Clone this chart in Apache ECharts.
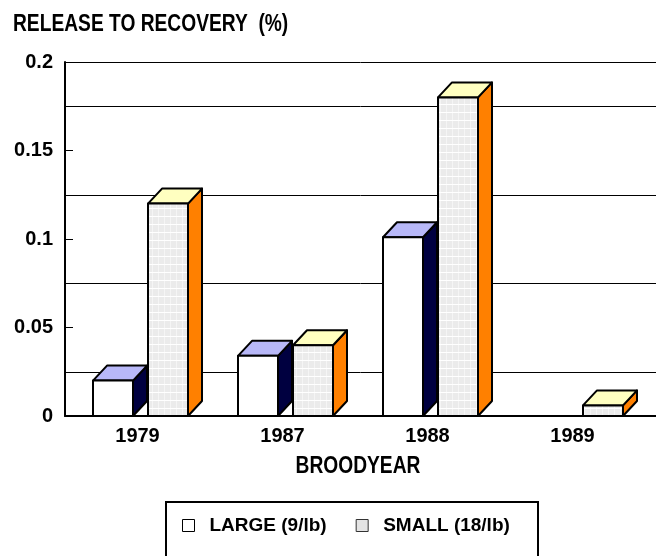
<!DOCTYPE html>
<html>
<head>
<meta charset="utf-8">
<script src="https://cdn.jsdelivr.net/npm/echarts@6/dist/echarts.min.js"></script>
<style>
  html, body { margin: 0; padding: 0; background: #fff; }
  #chart { width: 656px; height: 556px; }
</style>
</head>
<body>
<div id="chart"></div>
<script>
// data
const years = ["1979", "1987", "1988", "1989"];
const largeVals = [0.02, 0.034, 0.101, 0];
const smallVals = [0.12, 0.04, 0.18, 0.006];
const yTicks = [0, 0.05, 0.1, 0.15, 0.2];

const FONT = "'Liberation Sans', Arial, sans-serif";

// light grey texture for the small-fish bars
function makePattern() {
  let c = document.createElement("canvas");
  c.width = 6;
  c.height = 8;
  let ctx = c.getContext("2d");
  ctx.fillStyle = "#ebebeb";
  ctx.fillRect(0, 0, 6, 8);
  ctx.fillStyle = "#f5f5f5";
  ctx.fillRect(2, 0, 1, 8);
  ctx.fillStyle = "#ffffff";
  ctx.fillRect(0, 0, 6, 1);
  return c;
}
const pattern = { image: makePattern(), repeat: "repeat" };

// 3D-ish box bar: front, top and side faces
function boxBar(offsetFrac, front, topColor, sideColor) {
  return function (params, api) {
    let idx = api.value(0);
    let val = api.value(1);
    if (!val) return null;
    let base = api.coord([idx, 0]);
    let top = api.coord([idx, val]);
    let bw = api.size([1, 0])[0];
    let w = bw * 40 / 145;
    let dx = bw * 14 / 145;
    let dy = 15;
    let x0 = base[0] + bw * offsetFrac;
    let x1 = x0 + w;
    let yb = base[1];
    let yt = top[1];
    let edge = { stroke: "#000", lineWidth: 2, lineJoin: "round" };
    return {
      type: "group",
      children: [
        {
          type: "polygon",
          shape: { points: [[x1, yt], [x1 + dx, yt - dy], [x1 + dx, yb - dy], [x1, yb]] },
          style: Object.assign({ fill: sideColor }, edge)
        },
        {
          type: "polygon",
          shape: { points: [[x0, yt], [x0 + dx, yt - dy], [x1 + dx, yt - dy], [x1, yt]] },
          style: Object.assign({ fill: topColor }, edge)
        },
        {
          type: "rect",
          shape: { x: x0, y: yt, width: w, height: yb - yt },
          style: Object.assign({ fill: front }, edge)
        }
      ]
    };
  };
}

let myChart = echarts.init(document.getElementById("chart"));

let option = {
  animation: false,
  backgroundColor: "#fff",
  textStyle: { fontFamily: FONT },
  legend: {
    left: 182,
    top: 516,
    padding: 0,
    itemWidth: 12,
    itemHeight: 12,
    itemGap: 29,
    textStyle: { fontFamily: FONT, fontSize: 19, fontWeight: "bold", color: "#000", padding: [0, 0, 0, 10] },
    data: [
      { name: "LARGE (9/lb)", icon: "rect", itemStyle: { color: "#fff", borderColor: "#000", borderWidth: 1 } },
      { name: "SMALL (18/lb)", icon: "rect", itemStyle: { color: "#e4e4e4", borderColor: "#333", borderWidth: 1 } }
    ]
  },
  // narrow-looking headings: squeezed horizontally since no narrow font is installed
  graphic: [
    {
      type: "text",
      x: 13,
      y: 24,
      scaleX: 0.8,
      style: {
        text: "RELEASE TO RECOVERY  (%)",
        font: "bold 24px " + FONT,
        fill: "#000",
        verticalAlign: "middle"
      }
    },
    {
      type: "text",
      x: 358,
      y: 466,
      scaleX: 0.8,
      style: {
        text: "BROODYEAR",
        font: "bold 24px " + FONT,
        fill: "#000",
        align: "center",
        verticalAlign: "middle"
      }
    },
    {
      type: "rect",
      shape: { x: 166, y: 502, width: 372, height: 80 },
      style: { fill: "none", stroke: "#000", lineWidth: 2 }
    }
  ],
  grid: [
    { left: 65, top: 62, width: 580, height: 354 },
    { left: 65, top: 62, right: 0, height: 354 }
  ],
  xAxis: [
    {
      type: "category",
      gridIndex: 0,
      data: years,
      axisLine: { show: false },
      axisTick: { show: false },
      axisLabel: { fontFamily: FONT, fontSize: 20, fontWeight: "bold", color: "#000", margin: 10 }
    },
    {
      type: "value",
      gridIndex: 1,
      min: 0,
      max: 1,
      axisLine: { show: true, lineStyle: { color: "#000", width: 2 } },
      axisTick: { show: false },
      axisLabel: { show: false },
      splitLine: { show: false }
    }
  ],
  yAxis: [
    {
      type: "value",
      gridIndex: 0,
      min: yTicks[0],
      max: yTicks[yTicks.length - 1],
      interval: 0.05,
      axisLine: { show: true, lineStyle: { color: "#000", width: 2 } },
      axisTick: { show: true, inside: true, length: 8, lineStyle: { color: "#000" } },
      axisLabel: { fontFamily: FONT, fontSize: 20, fontWeight: "bold", color: "#000", margin: 12 },
      splitLine: { show: false }
    },
    {
      // back wall grid lines sit half a step off the labelled ticks
      type: "value",
      gridIndex: 1,
      min: 0,
      max: 0.2,
      interval: 0.025,
      axisLine: { show: false },
      axisTick: { show: false },
      axisLabel: { show: false },
      splitLine: {
        show: true,
        lineStyle: {
          width: 1,
          color: ["#000", "#000", "rgba(0,0,0,0)", "#000", "rgba(0,0,0,0)", "#000", "rgba(0,0,0,0)", "#000", "#000"]
        }
      }
    }
  ],
  series: [
    {
      name: "LARGE (9/lb)",
      type: "custom",
      xAxisIndex: 0,
      yAxisIndex: 0,
      itemStyle: { color: "#fff", borderColor: "#000" },
      renderItem: boxBar(-44.5 / 145, "#ffffff", "#b8b8f8", "#000040"),
      data: largeVals.map((v, i) => [i, v]),
      z: 5
    },
    {
      name: "SMALL (18/lb)",
      type: "custom",
      xAxisIndex: 0,
      yAxisIndex: 0,
      itemStyle: { color: "#e4e4e4", borderColor: "#333" },
      renderItem: boxBar(10.5 / 145, pattern, "#ffffc0", "#ff8000"),
      data: smallVals.map((v, i) => [i, v]),
      z: 5
    }
  ]
};

myChart.setOption(option);
</script>
</body>
</html>
